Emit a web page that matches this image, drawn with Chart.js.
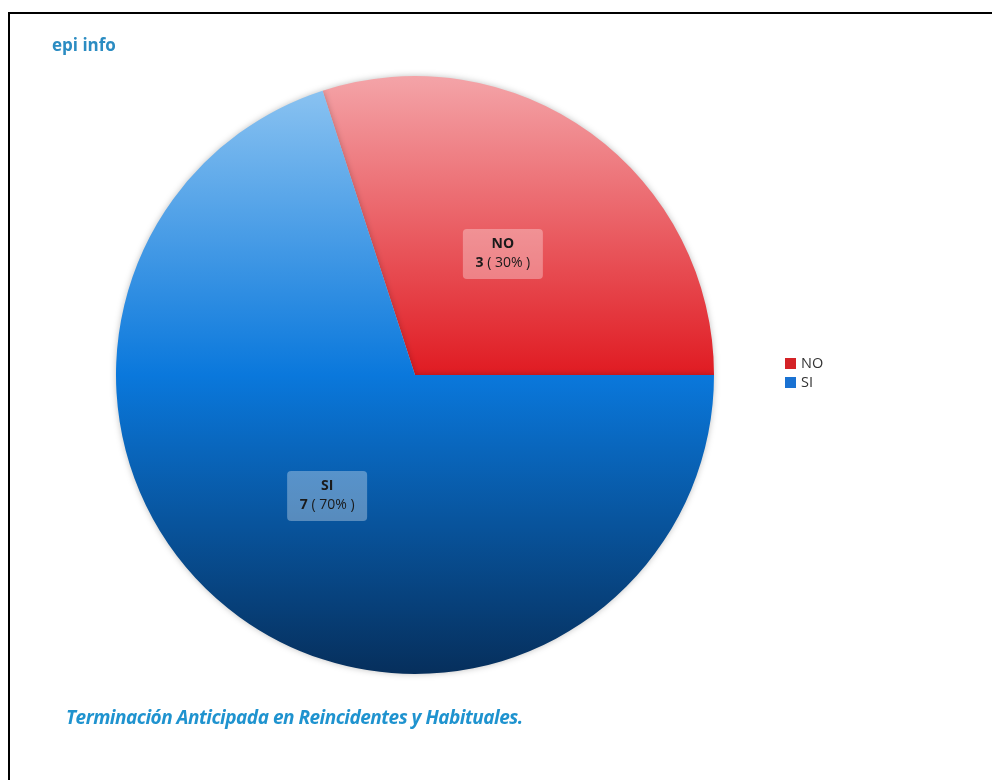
<!DOCTYPE html>
<html>
<head>
<meta charset="utf-8">
<script src="https://cdn.jsdelivr.net/npm/chart.js@4.4.1/dist/chart.umd.min.js"></script>
<style>
  body { margin: 0; background: #fff; }
  #wrap { position: relative; width: 992px; height: 780px; overflow: hidden; }
  #frame { position: absolute; left: 8px; top: 12px; width: 1000px; height: 800px;
           border-top: 2px solid #000; border-left: 2px solid #000; }
  #brand { position: absolute; left: 52px; top: 33px; font: bold 17px "Open Sans", sans-serif; color: #2b8cc2; }
  #title { position: absolute; left: 66px; top: 704px; font: italic bold 19px "Open Sans", sans-serif;
           letter-spacing: -0.5px; color: #1f93cf; white-space: nowrap; }
  #legend { position: absolute; left: 785px; top: 354px; font: 14.5px "Open Sans", sans-serif; color: #333; }
  #legend div { height: 19px; line-height: 18px; }
  #legend span { display: inline-block; width: 11px; height: 11px; margin-right: 5px; vertical-align: -1px; }
  canvas { position: absolute; left: 0; top: 0; }
</style>
</head>
<body>
<div id="wrap">
  <canvas id="myPieChart" width="992" height="780"></canvas>
  <div id="frame"></div>
  <div id="brand">epi info</div>
  <div id="legend"></div>
  <div id="title">Terminación Anticipada en Reincidentes y Habituales.</div>
</div>
<script>
var categories = ['NO', 'SI'];
var counts = [3, 7];
// light (top) / base (middle) / dark (bottom) shade per slice
var lightColors = ['#f4a4a8', '#90c6f2'];
var baseColors = ['#e01b22', '#0a78dc'];
var darkColors = ['#8a1014', '#062f5c'];
var legendColors = ['#d42226', '#1a72d2'];

var total = counts.reduce(function (a, b) { return a + b; }, 0);

function sliceGradient(context) {
    var chart = context.chart;
    var area = chart.chartArea;
    if (!area) return baseColors[context.dataIndex];
    var g = chart.ctx.createLinearGradient(0, area.top, 0, area.bottom);
    g.addColorStop(0, lightColors[context.dataIndex]);
    g.addColorStop(0.5, baseColors[context.dataIndex]);
    g.addColorStop(1, darkColors[context.dataIndex]);
    return g;
}

// boxed labels in the middle of each slice
var sliceLabels = {
    id: 'sliceLabels',
    afterDatasetsDraw: function (chart) {
        var ctx = chart.ctx;
        var fs = '14px "Open Sans", sans-serif';
        chart.getDatasetMeta(0).data.forEach(function (arc, i) {
            var p = arc.getCenterPoint();
            var w = 80, h = 50;
            ctx.save();
            ctx.fillStyle = 'rgba(255, 255, 255, 0.32)';
            ctx.beginPath();
            ctx.roundRect(p.x - w / 2, p.y - h / 2, w, h, 4);
            ctx.fill();
            ctx.fillStyle = '#1a1a1a';
            ctx.textBaseline = 'middle';
            ctx.textAlign = 'center';
            ctx.font = 'bold ' + fs;
            ctx.fillText(categories[i], p.x, p.y - 10);
            var num = String(counts[i]);
            var rest = ' ( ' + Math.round(counts[i] / total * 100) + '% )';
            var w1 = ctx.measureText(num).width;
            ctx.font = fs;
            var w2 = ctx.measureText(rest).width;
            var x0 = p.x - (w1 + w2) / 2;
            ctx.textAlign = 'left';
            ctx.font = 'bold ' + fs;
            ctx.fillText(num, x0, p.y + 9);
            ctx.font = fs;
            ctx.fillText(rest, x0 + w1, p.y + 9);
            ctx.restore();
        });
    }
};

var softShadow = {
    id: 'softShadow',
    beforeDatasetsDraw: function (chart) {
        chart.ctx.save();
        chart.ctx.shadowColor = 'rgba(0, 0, 0, 0.25)';
        chart.ctx.shadowBlur = 6;
    },
    afterDatasetsDraw: function (chart) {
        chart.ctx.restore();
    }
};

var ctx = document.getElementById('myPieChart').getContext('2d');
var myPieChart = new Chart(ctx, {
    type: 'pie',
    data: {
        labels: categories,
        datasets: [{
            data: counts,
            backgroundColor: sliceGradient,
            borderWidth: 0
        }]
    },
    options: {
        responsive: false,
        animation: false,
        rotation: -18,
        layout: { padding: { left: 116, top: 76, right: 278, bottom: 106 } },
        plugins: {
            legend: { display: false },
            tooltip: { enabled: false }
        }
    },
    plugins: [softShadow, sliceLabels]
});

var legendBox = document.getElementById('legend');
categories.forEach(function (c, i) {
    var row = document.createElement('div');
    var sw = document.createElement('span');
    sw.style.background = legendColors[i];
    row.appendChild(sw);
    row.appendChild(document.createTextNode(c));
    legendBox.appendChild(row);
});
</script>
</body>
</html>
